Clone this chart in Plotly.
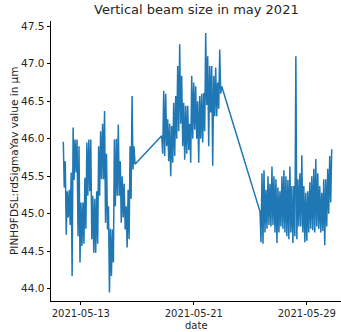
import pandas as pd
import plotly.graph_objects as go

# Segment 1 (mid May 11 -> May 16)
seg1_start, seg1_end = "2021-05-11 18:16", "2021-05-16 20:05"
seg1_values = [
    45.96, 45.35, 45.70, 44.72, 45.30, 44.95, 45.32, 44.85, 45.55, 44.17,
    46.15, 45.45, 45.99, 45.55, 45.99, 44.70, 45.90, 44.35, 45.15, 44.57,
    45.15, 44.60, 45.48, 44.80, 45.95, 45.24, 45.99, 45.30, 45.99, 44.66,
    45.24, 44.48, 45.20, 44.48, 45.30, 44.60, 45.90, 45.24, 46.10, 45.46,
    46.20, 45.46, 46.37, 44.88, 45.80, 44.79, 45.10, 43.95, 44.80, 44.17,
    44.79, 44.35, 45.99, 45.10, 46.00, 45.24, 46.19, 45.24, 45.70, 44.88,
    45.50, 44.95, 45.40, 44.79, 45.10, 44.55, 45.32, 44.66, 45.90, 45.20,
    46.57, 45.59, 45.90, 45.66,
]

# Segment 2 (May 18 -> May 22)
seg2_start, seg2_end = "2021-05-18 17:27", "2021-05-22 23:24"
seg2_values = [
    46.04, 45.80, 46.64, 45.77, 46.60, 45.90, 46.26, 45.70, 46.20, 45.50,
    46.17, 45.68, 46.48, 45.77, 46.57, 46.00, 46.97, 46.10, 47.26, 46.20,
    46.84, 45.90, 46.48, 45.72, 46.44, 45.80, 46.44, 45.85, 46.20, 45.68,
    46.84, 46.00, 46.75, 46.12, 46.70, 46.00, 46.50, 45.68, 46.57, 46.00,
    46.60, 45.95, 46.61, 46.10, 47.41, 46.45, 47.10, 45.90, 46.97, 46.35,
    46.97, 45.64, 46.84, 46.30, 46.95, 46.30, 46.75, 46.40, 47.19, 46.60,
    46.70,
]

# Segment 3 (May 25 -> May 30)
seg3_start, seg3_end = "2021-05-25 16:29", "2021-05-30 18:19"
seg3_values = [
    45.03, 44.62, 45.54, 44.60, 45.58, 44.75, 45.32, 44.80, 45.50, 44.85,
    45.40, 44.83, 45.63, 44.85, 45.50, 44.75, 45.46, 44.61, 45.35, 44.75,
    45.30, 44.83, 45.50, 44.80, 45.58, 44.75, 45.50, 44.70, 45.45, 44.66,
    45.63, 44.75, 45.37, 44.61, 45.37, 44.70, 47.10, 44.66, 45.46, 44.83,
    45.54, 44.83, 45.78, 44.75, 45.37, 44.62, 45.28, 44.64, 45.30, 44.75,
    45.42, 44.80, 45.50, 44.78, 45.60, 44.75, 45.73, 44.83, 45.54, 44.80,
    45.37, 44.75, 45.28, 44.77, 45.46, 44.58, 45.46, 44.83, 45.60, 45.00,
    45.77, 45.15, 45.86,
]

x_ticks = ["2021-05-13", "2021-05-21", "2021-05-29"]
y_ticks = [44.0, 44.5, 45.0, 45.5, 46.0, 46.5, 47.0, 47.5]
x_range = ["2021-05-10 21:22", "2021-05-31 10:06"]
y_range = [43.837, 47.57]

dates = []
values = []
for s, e, v in [(seg1_start, seg1_end, seg1_values),
                (seg2_start, seg2_end, seg2_values),
                (seg3_start, seg3_end, seg3_values)]:
    dates += list(pd.date_range(s, e, periods=len(v)))
    values += v

font = "DejaVu Sans"
txt = "#262626"
fig = go.Figure()
fig.add_trace(go.Scatter(x=dates, y=values, mode="lines",
                         line=dict(color="#1f77b4", width=1.5)))

axis_common = dict(showgrid=False, zeroline=False, showline=True,
                   linecolor="black", linewidth=0.8, ticks="outside",
                   ticklen=3.5, tickwidth=0.8, tickcolor="black")

fig.update_layout(
    width=341, height=332,
    margin=dict(l=51, r=0, t=21, b=31),
    paper_bgcolor="white", plot_bgcolor="white",
    showlegend=False,
    font=dict(family=font, size=10.5, color=txt),
    xaxis=dict(range=x_range, tickvals=x_ticks, ticktext=x_ticks,
               tickfont=dict(family=font, size=10, color=txt), **axis_common),
    yaxis=dict(range=y_range, tickvals=y_ticks,
               ticktext=[f"{t:.1f}" for t in y_ticks],
               tickfont=dict(family=font, size=10.5, color=txt), **axis_common),
    annotations=[
        dict(text="Vertical beam size in may 2021", xref="paper", yref="paper",
             x=0.5, y=1, yanchor="bottom", yshift=2, showarrow=False,
             font=dict(family=font, size=13, color=txt)),
        dict(text="date", xref="paper", yref="paper", x=0.5, y=0,
             yanchor="bottom", yshift=-31, borderpad=0, showarrow=False,
             font=dict(family=font, size=10, color=txt)),
        dict(text="PINH9FDSL:rdSigmaYav value in µm", xref="paper", yref="paper",
             x=0, xanchor="center", xshift=-37, y=0.5, textangle=-90,
             showarrow=False, font=dict(family=font, size=10.5, color=txt)),
    ],
)

fig.write_html("out.html")
